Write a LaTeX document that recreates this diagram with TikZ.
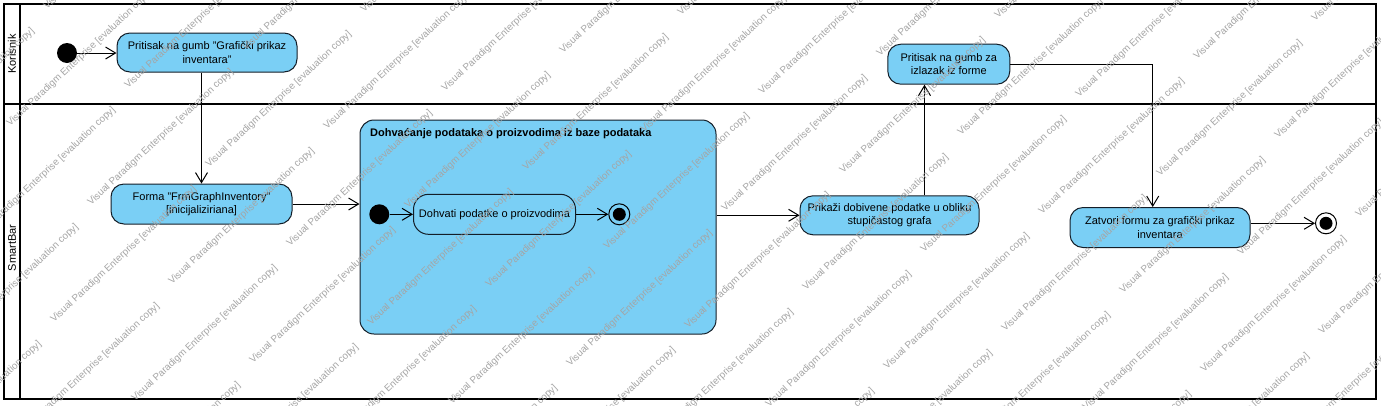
\documentclass[tikz,border=0pt]{standalone}
\usepackage{fontspec}
\setmainfont{Liberation Sans}
\usetikzlibrary{arrows.meta,calc}
\definecolor{actfill}{RGB}{122,207,245}
\definecolor{actline}{RGB}{20,30,40}
\definecolor{wmgray}{RGB}{165,165,165}
\tikzset{
 action/.style={draw=actline, line width=1pt, fill=actfill, rounded corners=13pt, align=center, inner sep=2pt, font=\fontsize{11}{13.5}\selectfont, text=black},
 initnode/.style={circle, fill=black, minimum size=20pt, inner sep=0pt},
 finalnode/.style={circle, draw=black, line width=1pt, minimum size=21pt, inner sep=0pt, path picture={\fill[black] (path picture bounding box.center) circle (6.5pt);}},
 flow/.style={draw=black, line width=1pt, -{Straight Barb[length=10pt,width=12pt,line width=1pt]}},
 lane/.style={draw=black, line width=2pt},
 lanelabel/.style={rotate=90, font=\fontsize{11}{13}\selectfont, inner sep=0pt},
 wm/.style={rotate=43, anchor=base west, text=wmgray, font=\fontsize{9.8}{10}\selectfont, inner sep=0pt},
}
\begin{document}
\begin{tikzpicture}[x=1pt,y=-1pt]
\useasboundingbox (0,0) rectangle (1381,405);
\fill[white] (0,0) rectangle (1381,405);
% swimlanes
\draw[lane] (4,4) rectangle (1376,399);
\draw[lane] (20,4) -- (20,399);
\draw[lane, line width=2.6pt] (4,104) -- (1376,104);
\node[lanelabel] (lk) at (12,54) {Korisnik};
\node[lanelabel] (ls) at (12,248) {SmartBar};
% nodes
\node[initnode] (i1) at (67,53) {};
\node[action, minimum width=180pt, minimum height=39pt] (a1) at (207,52.5) {Pritisak na gumb "Grafički prikaz\\inventara"};
\node[action, minimum width=181pt, minimum height=40pt] (forma) at (201.5,204) {Forma "FrmGraphInventory"\\{}[inicijaliziriana]};
\node[draw=actline, fill=actfill, rounded corners=14pt, line width=1pt, minimum width=356pt, minimum height=214pt, inner sep=0pt] (reg) at (538,227) {};
\node[anchor=west, font=\bfseries\fontsize{11}{13}\selectfont, inner sep=0pt] (regt) at (370,134) {Dohvaćanje podataka o proizvodima iz baze podataka};
\node[initnode] (i2) at (379.3,214.3) {};
\node[action, minimum width=162pt, minimum height=40pt, rounded corners=15pt] (dohv) at (494.5,214.3) {Dohvati podatke o proizvodima};
\node[finalnode] (f2) at (619.3,214.3) {};
\node[action, minimum width=179pt, minimum height=39pt] (prikaz) at (889.5,215.3) {Prikaži dobivene podatke u obliku\\stupičastog grafa};
\node[action, minimum width=122pt, minimum height=40pt] (izlaz) at (948.8,64.2) {Pritisak na gumb za\\izlazak iz forme};
\node[action, minimum width=180pt, minimum height=40pt] (zatv) at (1160,227.5) {Zatvori formu za grafički prikaz\\inventara};
\node[finalnode] (f1) at (1326,223.3) {};
% connectors
\draw[flow] (i1) -- (i1 -| a1.west);
\draw[flow] (a1.south -| forma.north) -- (forma.north);
\draw[flow] (forma.east) -- (forma.east -| reg.west);
\draw[flow] (i2) -- (i2 -| dohv.west);
\draw[flow] (dohv.east) -- (f2);
\draw[flow] (reg.east |- prikaz.west) -- (prikaz.west);
\coordinate (pup) at ([xshift=35pt]prikaz.north);
\draw[flow] (pup) -- (pup |- izlaz.south);
\coordinate (zin) at ([xshift=-7.3pt]zatv.north);
\draw[flow] (izlaz.east) -| (zin);
\draw[flow] (zatv.east |- f1) -- (f1);
% watermark
\begin{scope}
\clip (0,0) rectangle (1381,405);
\foreach \i in {-14,...,6} {
 \foreach \j in {-8,...,6} {
  \pgfmathsetmacro\wx{1005+118*\i+81*\j}
  \pgfmathsetmacro\wy{332-38*\i+79*\j}
  \pgfmathtruncatemacro\ok{(\wx>-220)&&(\wx<1390)&&(\wy>-10)&&(\wy<560)}
  \ifnum\ok=1
   \node[wm] (wm\i x\j) at (\wx,\wy) {Visual Paradigm Enterprise [evaluation copy]};
  \fi
 }
}
\end{scope}
\end{tikzpicture}
\end{document}
